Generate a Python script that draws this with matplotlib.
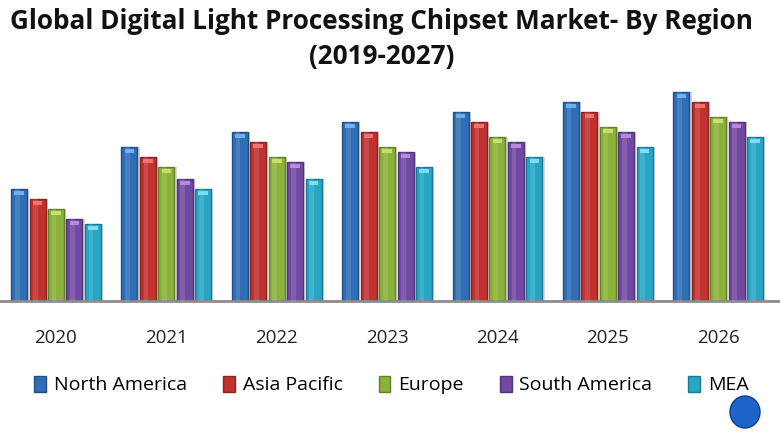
import matplotlib
matplotlib.use("Agg")
import matplotlib.pyplot as plt
from matplotlib.patches import Patch, Ellipse
import numpy as np

years = ["2020", "2021", "2022", "2023", "2024", "2025", "2026"]
regions = ["North America", "Asia Pacific", "Europe", "South America", "MEA"]
north_america = [112, 154, 169, 179, 189, 199, 209]
asia_pacific = [102, 144, 159, 169, 179, 189, 199]
europe = [92, 134, 144, 154, 164, 174, 184]
south_america = [82, 122, 139, 149, 159, 169, 179]
mea = [77, 112, 122, 134, 144, 154, 164]
series = [north_america, asia_pacific, europe, south_america, mea]
colors = ["#2F6DB5", "#C0312F", "#8AB13A", "#7249A0", "#27A6C4"]
edges = ["#1F4F88", "#8C2220", "#62822A", "#51337A", "#1B7A92"]
tops = ["#6FB0EE", "#F07470", "#C8E06A", "#B58AE0", "#7CDCF0"]

fig = plt.figure(figsize=(7.8, 4.4), dpi=100)
ax = fig.add_axes([0.0, 0.316, 1.0, 0.502])
x = np.arange(len(years))
step = 0.167
width = 0.145
for i, (vals, c, e, t) in enumerate(zip(series, colors, edges, tops)):
    pos = x + (i - 2) * step
    ax.bar(pos + 0.02, vals, width, color="#d8d8d8", zorder=1)
    ax.bar(pos, vals, width, color=c, edgecolor=e, linewidth=1.0, zorder=2)
    ax.bar(pos - width * 0.12, vals, width * 0.3, color="white", alpha=0.12, zorder=3, linewidth=0)
    ax.bar(pos, [4] * len(vals), width * 0.6, bottom=np.array(vals) - 6, color=t, zorder=4, linewidth=0)

ax.set_xlim(-0.507, 6.56)
ax.set_ylim(0, 221)
ax.set_xticks(x)
ax.set_xticklabels(years, fontsize=13.5, color="#222222", family="Open Sans")
ax.tick_params(axis="x", length=0, pad=20)
ax.set_yticks([])
for s in ["top", "right", "left"]:
    ax.spines[s].set_visible(False)
ax.spines["bottom"].set_color("#8c8c8c")
ax.spines["bottom"].set_linewidth(2)

fig.text(0.489, 0.952, "Global Digital Light Processing Chipset Market- By Region",
         ha="center", va="center", fontsize=18.8, fontweight="bold", family="Open Sans", color="#111111")
fig.text(0.489, 0.872, "(2019-2027)", ha="center", va="center", fontsize=18.8,
         fontweight="bold", family="Open Sans", color="#111111")

handles = [Patch(facecolor=c, edgecolor=e, label=r) for c, e, r in zip(colors, edges, regions)]
fig.legend(handles=handles, loc="center", bbox_to_anchor=(0.502, 0.125), ncol=5, frameon=False,
           prop={"family": "Open Sans", "size": 14}, handlelength=0.6, handleheight=0.9,
           handletextpad=0.4, columnspacing=1.86)

# logo globe (decorative)
fig.patches.append(Ellipse((745 / 780, 1 - 412 / 440), 30 / 780, 32 / 440,
                           transform=fig.transFigure, facecolor="#1E63C8", edgecolor="#0B3F8F", zorder=5))

fig.savefig("out.png", dpi=100)
